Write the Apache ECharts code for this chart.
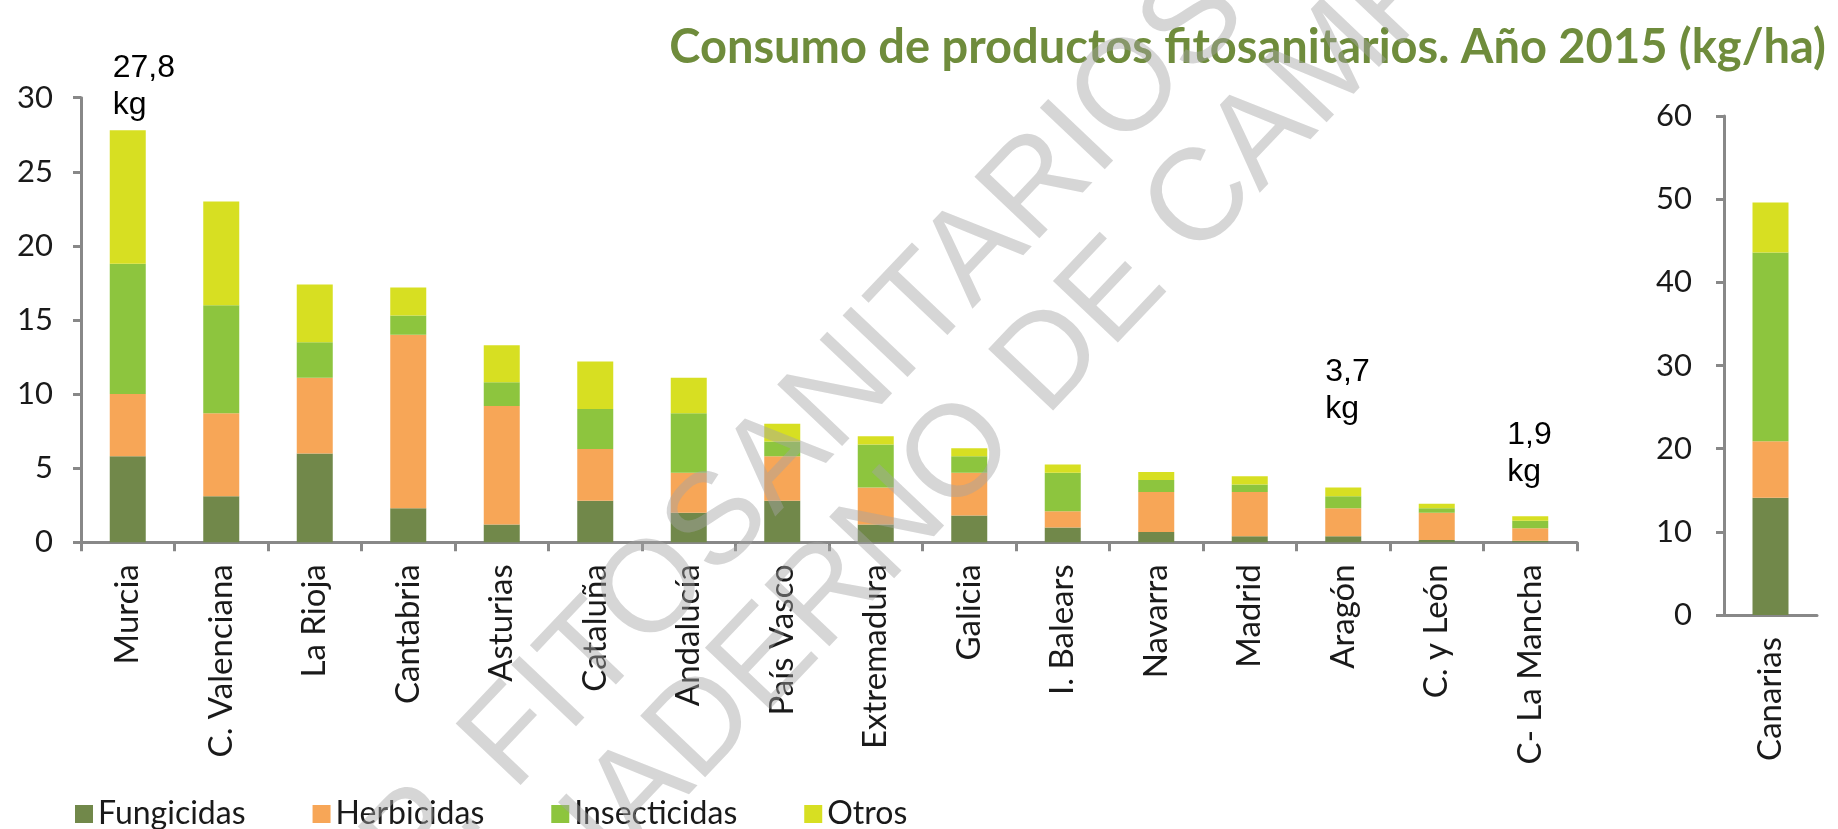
<!DOCTYPE html>
<html>
<head>
<meta charset="utf-8">
<script src="https://cdn.jsdelivr.net/npm/echarts@6/dist/echarts.min.js"></script>
<style>
html,body{margin:0;padding:0;background:#ffffff;}
#chart{width:1838px;height:829px;}
</style>
</head>
<body>
<div id="chart"></div>
<script>
// ---- Data (kg/ha, 2015) ----
const categories = ['Murcia','C. Valenciana','La Rioja','Cantabria','Asturias','Cataluña','Andalucía','País Vasco','Extremadura','Galicia','I. Balears','Navarra','Madrid','Aragón','C. y León','C- La Mancha'];
const fungicidas   = [5.8, 3.1, 6.0, 2.3, 1.2, 2.8, 2.0, 2.8, 1.2, 1.8, 1.0, 0.7, 0.4, 0.4, 0.15, 0.1];
const herbicidas   = [4.2, 5.6, 5.1, 11.7, 8.0, 3.5, 2.7, 3.0, 2.5, 2.9, 1.1, 2.7, 3.0, 1.9, 1.85, 0.85];
const insecticidas = [8.8, 7.3, 2.4, 1.3, 1.6, 2.7, 4.0, 1.0, 2.9, 1.1, 2.6, 0.8, 0.5, 0.8, 0.3, 0.5];
const otros        = [9.0, 7.0, 3.9, 1.9, 2.5, 3.2, 2.4, 1.2, 0.55, 0.55, 0.55, 0.55, 0.55, 0.6, 0.3, 0.3];

const canariasCategory     = ['Canarias'];
const canariasFungicidas   = [14.1];
const canariasHerbicidas   = [6.8];
const canariasInsecticidas = [22.7];
const canariasOtros        = [6.0];

const seriesNames = ['Fungicidas','Herbicidas','Insecticidas','Otros'];
const leftAxis  = {min: 0, max: 30, interval: 5};
const rightAxis = {min: 0, max: 60, interval: 10};

const annotatedRegions = ['Murcia','Aragón','C- La Mancha'];
const annotationTexts  = ['27,8','3,7','1,9'];
const titleText = 'Consumo de productos fitosanitarios. Año 2015 (kg/ha)';
const watermarkLines = ['P. FITOSANITARIOS','CUADERNO DE CAMPO'];

// ---- Styling / layout ----
const colors = ['#71884a','#f7a657','#8dc53e','#d7df22'];
const annotationOffsets = [[-15,-2],[-18,-55],[-23,-21]];
const axisColor = '#888888';
const textColor = '#1a1a1a';

const chart = echarts.init(document.getElementById('chart'), null, {renderer:'canvas'});

function axisLineStyle(){ return {show:true, lineStyle:{color:axisColor, width:3}}; }

const leftSets  = [fungicidas, herbicidas, insecticidas, otros];
const rightSets = [canariasFungicidas, canariasHerbicidas, canariasInsecticidas, canariasOtros];

const series = [];
seriesNames.forEach((name, s) => {
  let data = leftSets[s].slice();
  if (s === 3) {
    data = data.map((v, i) => {
      const k = annotatedRegions.indexOf(categories[i]);
      if (k < 0) return v;
      return {
        value: v,
        label: {
          show: true, position: 'top', align: 'left',
          offset: annotationOffsets[k],
          formatter: annotationTexts[k] + '\nkg',
          fontFamily: 'Liberation Sans', fontSize: 32, lineHeight: 37, color: '#000'
        }
      };
    });
  }
  series.push({
    name: name, type: 'bar', stack: 'left', xAxisIndex: 0, yAxisIndex: 0,
    barWidth: 36, data: data, itemStyle: {color: colors[s]}
  });
});
seriesNames.forEach((name, s) => {
  series.push({
    name: name, type: 'bar', stack: 'right', xAxisIndex: 1, yAxisIndex: 1,
    barWidth: 36, data: rightSets[s], itemStyle: {color: colors[s]}
  });
});

const catLabel = {rotate: 90, margin: 22, fontSize: 33, fontFamily: 'Lato', color: textColor, interval: 0};
const valLabel = (m) => ({margin: m, fontSize: 31, fontFamily: 'Lato', color: textColor});

chart.setOption({
  animation: false,
  backgroundColor: '#ffffff',
  title: {
    text: titleText, right: 7, top: 19,
    textStyle: {fontFamily: 'Lato', fontWeight: 'bold', fontSize: 47, color: '#6f8c3c'}
  },
  legend: {
    data: seriesNames, left: 70, top: 793, icon: 'rect',
    itemWidth: 18, itemHeight: 18, itemGap: 67,
    textStyle: {fontFamily: 'Lato', fontSize: 32, color: textColor}
  },
  grid: [
    {left: 81, top: 97.7, width: 1496, height: 444.6, containLabel: false},
    {left: 1724, top: 116, width: 93, height: 499, containLabel: false}
  ],
  xAxis: [
    {type: 'category', gridIndex: 0, data: categories,
     axisLine: axisLineStyle(),
     axisTick: {show: true, length: 9, lineStyle: {color: axisColor, width: 3}},
     axisLabel: catLabel},
    {type: 'category', gridIndex: 1, data: canariasCategory,
     axisLine: axisLineStyle(),
     axisTick: {show: false},
     axisLabel: catLabel}
  ],
  yAxis: [
    {type: 'value', gridIndex: 0, min: leftAxis.min, max: leftAxis.max, interval: leftAxis.interval,
     axisLine: axisLineStyle(),
     axisTick: {show: true, length: 8, lineStyle: {color: axisColor, width: 3}},
     splitLine: {show: false},
     axisLabel: valLabel(28)},
    {type: 'value', gridIndex: 1, min: rightAxis.min, max: rightAxis.max, interval: rightAxis.interval,
     axisLine: axisLineStyle(),
     axisTick: {show: true, length: 8, lineStyle: {color: axisColor, width: 3}},
     splitLine: {show: false},
     axisLabel: valLabel(32)}
  ],
  series: series,
  graphic: [
    {type: 'text', x: 807, y: 431, rotation: 46.5 * Math.PI / 180, z: 100, silent: true,
     style: {text: watermarkLines[0], font: '130px "Liberation Sans"', fill: 'rgba(165,165,165,0.45)', textAlign: 'center', textVerticalAlign: 'middle'}},
    {type: 'text', x: 990, y: 425, rotation: 46.5 * Math.PI / 180, z: 100, silent: true,
     style: {text: watermarkLines[1], font: '130px "Liberation Sans"', fill: 'rgba(165,165,165,0.45)', textAlign: 'center', textVerticalAlign: 'middle'}}
  ]
});
</script>
</body>
</html>
